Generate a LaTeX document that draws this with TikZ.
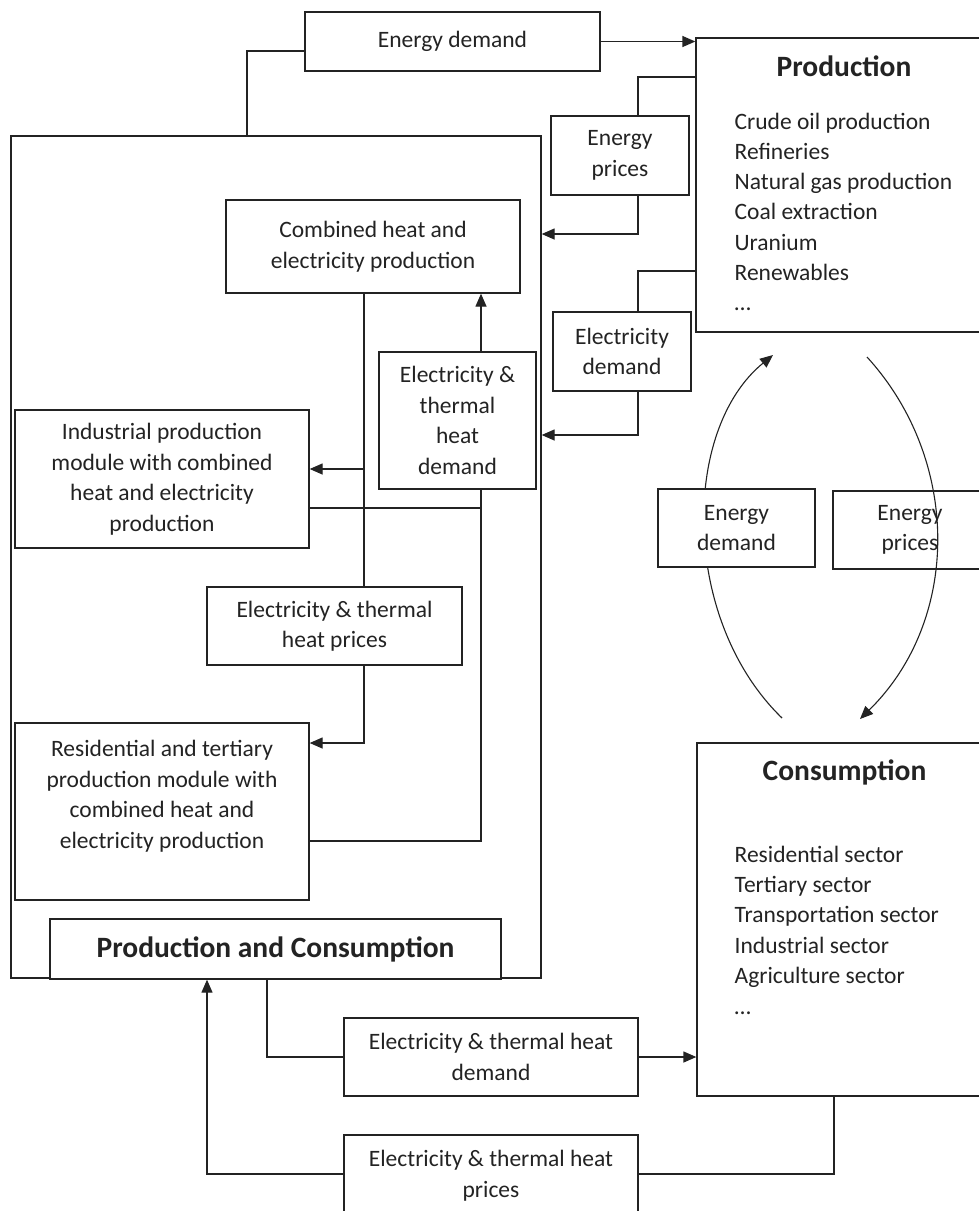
\documentclass[tikz,border=0pt]{standalone}
\usepackage{fontspec}
\setmainfont{Carlito}
\usetikzlibrary{arrows.meta}
\definecolor{ink}{RGB}{35,35,35}
\newcommand\fsn{\fontsize{23.5}{30.5}\selectfont}
\newcommand\fsb{\fontsize{29.5}{36}\selectfont\bfseries}
\tikzset{
  box/.style={draw, fill=white, align=center, inner sep=0pt, font=\fsn},
  lbl/.style={inner sep=0pt, font=\fsn, anchor=base west},
  ttl/.style={inner sep=0pt, font=\fsb, anchor=base},
  arr/.style={-{Triangle[length=13pt,width=11pt]}},
}
\begin{document}
\begin{tikzpicture}[x=1pt,y=-1pt,line width=1.3pt,color=ink]
\path[use as bounding box, clip] (0,0) rectangle (979,1211);
\fill[white] (0,0) rectangle (979,1211);

% container and big boxes
\node[draw, inner sep=0pt, minimum width=530pt, minimum height=842pt] (cont) at (276,557) {};
\node[box, minimum width=304pt, minimum height=294pt] (prod) at (848,185) {};
\node[box, minimum width=303pt, minimum height=353pt] (cons) at (848.5,919.5) {};

% boxes
\node[box, minimum width=295pt, minimum height=59pt] (ed) at (452.5,41.5) {Energy demand};
\node[box, minimum width=138pt, minimum height=79pt] (ep1) at (620,155.5) {Energy\\prices};
\node[box, minimum width=294pt, minimum height=93pt] (chp) at (373,246.5) {Combined heat and\\electricity production};
\node[box, minimum width=138pt, minimum height=79pt] (eld) at (622,351.5) {Electricity\\demand};
\node[box, minimum width=157pt, minimum height=137pt] (etd) at (457.5,420.5) {Electricity \&\\thermal\\heat\\demand};
\node[box, minimum width=294pt, minimum height=138pt] (ind) at (162,479) {Industrial production\\module with combined\\heat and electricity\\production};
\node[box, minimum width=255pt, minimum height=78pt] (etp) at (334.5,626) {Electricity \& thermal\\heat prices};
\node[box, minimum width=294pt, minimum height=177pt] (res) at (162,811.5) {};
\node[inner sep=0pt, align=center, font=\fsn] (resT) at (162,796) {Residential and tertiary\\production module with\\combined heat and\\electricity production};
\node[box, font=\fsb, minimum width=451pt, minimum height=60pt] (pc) at (275.5,949) {Production and Consumption};
\node[box, minimum width=294pt, minimum height=78pt] (etd2) at (491,1057) {Electricity \& thermal heat\\demand};
\node[box, minimum width=294pt, minimum height=81pt] (etp2) at (491,1175.5) {Electricity \& thermal heat\\prices};

% titles and lists
\node[ttl] (prodT) at (844,76) {Production};
\foreach [count=\i from 0] \t in {Crude oil production, Refineries, Natural gas production, Coal extraction, Uranium, Renewables, …}
  \node[lbl] (pl\i) at (734,{129+30.3*\i}) {\t};
\node[ttl] (consT) at (844.5,780) {Consumption};
\foreach [count=\i from 0] \t in {Residential sector, Tertiary sector, Transportation sector, Industrial sector, Agriculture sector, …}
  \node[lbl] (cl\i) at (734,{862+30.4*\i}) {\t};

% connectors
\coordinate (b1) at (247,51);
\draw (ed.west |- b1) -- (b1) -- (b1 |- cont.north);
\draw[arr] (ed.east) -- (ed.east -| prod.west);

\coordinate (b2) at (638,77);
\draw (prod.west |- b2) -- (b2) -- (b2 |- ep1.north);
\coordinate (b3) at (638,234);
\draw[arr] (b3 |- ep1.south) -- (b3) -- (b3 -| cont.east);

\coordinate (b4) at (638,271);
\draw (prod.west |- b4) -- (b4) -- (b4 |- eld.north);
\coordinate (b5) at (638,435);
\draw[arr] (b5 |- eld.south) -- (b5) -- (b5 -| cont.east);

\coordinate (b6) at (364,469);
\draw (b6 |- chp.south) -- (b6 |- etp.north);
\draw[arr] (b6) -- (b6 -| ind.east);

\coordinate (b7) at (481,508);
\draw[arr] (b7 |- etd.north) -- (b7 |- chp.south);
\coordinate (b8) at (481,841);
\draw (b7 |- etd.south) -- (b8) -- (b8 -| res.east);
\draw (ind.east |- b7) -- (b7);

\coordinate (b9) at (364,743);
\draw[arr] (b9 |- etp.south) -- (b9) -- (b9 -| res.east);

\coordinate (b10) at (267,1057);
\draw (b10 |- pc.south) -- (b10) -- (b10 -| etd2.west);
\draw[arr] (etd2.east) -- (etd2.east -| cons.west);

\coordinate (b11) at (834,1174);
\draw (b11 |- cons.south) -- (b11) -- (b11 -| etp2.east);
\coordinate (b12) at (207,1174);
\draw[arr] (etp2.west |- b12) -- (b12) -- (b12 |- pc.south);

% cycle arcs
\coordinate (a1) at (782,718);
\coordinate (a2) at (773,355);
\coordinate (a3) at (867,357);
\coordinate (a4) at (860,719);
\draw[arr, line width=1.1pt] (a1) .. controls (681,620) and (681,430) .. (a2);
\node[box, minimum width=157pt, minimum height=78pt] (edm) at (736.5,528) {Energy\\demand};
\node[box, minimum width=154pt, minimum height=78pt] (epm) at (910,530) {Energy\\prices};
\draw[arr, line width=1.1pt] (a3) .. controls (961,460) and (961,620) .. (a4);
\end{tikzpicture}
\end{document}
